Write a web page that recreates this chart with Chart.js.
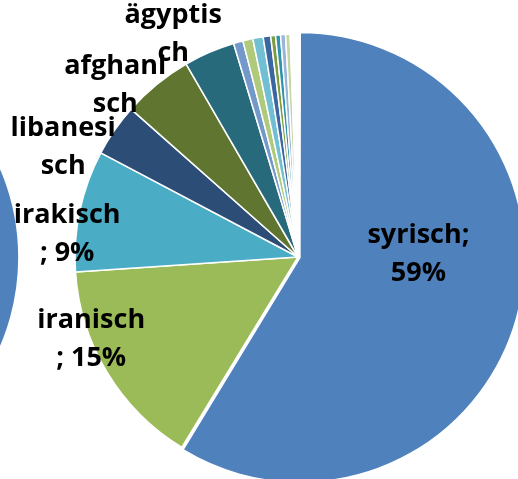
<!DOCTYPE html>
<html>
<head>
<meta charset="utf-8">
<script src="https://cdn.jsdelivr.net/npm/chart.js"></script>
<style>
  html, body {
    margin: 0;
    padding: 0;
    width: 518px;
    height: 479px;
    overflow: hidden;
    background: #fff;
  }
  .pie {
    position: absolute;
    width: 620px;
    height: 620px;
  }
  #mainWrap { left: -12px; top: -53px; }
  #copyWrap { left: -518px; top: -53px; }
</style>
</head>
<body>
<div id="copyWrap" class="pie"><canvas id="copyChart" width="620" height="620"></canvas></div>
<div id="mainWrap" class="pie"><canvas id="mainChart" width="620" height="620"></canvas></div>
<script>
// nationalities, share in percent
const categories = [
  'syrisch', 'iranisch', 'irakisch', 'libanesisch', 'afghanisch', 'ägyptisch',
  'Sonstige 1', 'Sonstige 2', 'Sonstige 3', 'Sonstige 4', 'Sonstige 5',
  'Sonstige 6', 'Sonstige 7', 'Sonstige 8', 'Sonstige 9', 'Sonstige 10',
  'Sonstige 11', 'Sonstige 12', 'Sonstige 13', 'Sonstige 14', 'Sonstige 15'
];
const shares = [
  58.7, 15.2, 8.8, 3.8, 5.1, 3.7,
  0.69, 0.72, 0.75, 0.54, 0.35,
  0.36, 0.36, 0.33, 0.12, 0.10,
  0.08, 0.08, 0.07, 0.06, 0.05
];
const sliceColors = [
  '#4F81BD', '#9BBB59', '#4BACC6', '#2C4D75', '#5F7530', '#276A7C',
  '#7399CB', '#B0CA7C', '#72BFD3', '#3B67A0', '#7D9C3F',
  '#2E93AB', '#9AB5DB', '#C4D7A0', '#A3D3E0', '#1E3A5F',
  '#4A5E24', '#1C5766', '#BFD0E8', '#3D6FB0', '#6F8F3A'
];

const total = shares.reduce((a, b) => a + b, 0);
const pct = i => Math.round(shares[i] / total * 100);

// text of the data labels, wrapped like in the original
const labelLines = [
  [categories[0] + ';', pct(0) + '%'],
  [categories[1], '; ' + pct(1) + '%'],
  [categories[2], '; ' + pct(2) + '%'],
  ['libanesi', 'sch'],
  ['afghani', 'sch'],
  ['ägyptis', 'ch']
];
// where each label sits: [distance / radius, angle in degrees (canvas, 0 = right)]
const labelPlace = [
  [0.540, -1.3],
  [0.998, 158.3],
  [1.040, 185.6],
  [1.162, 205.0],
  [1.124, 223.2],
  [1.145, 240.75]
];

const labelPlugin = {
  id: 'sliceLabels',
  afterDatasetsDraw(chart) {
    const ctx = chart.ctx;
    const arc = chart.getDatasetMeta(0).data[0];
    const r = arc.outerRadius;
    ctx.save();
    ctx.font = 'bold 27px "Open Sans", Carlito, Lato, sans-serif';
    ctx.fillStyle = '#000';
    ctx.textAlign = 'center';
    ctx.textBaseline = 'middle';
    const lh = 38.5;
    labelLines.forEach((lines, i) => {
      const [f, deg] = labelPlace[i];
      const a = deg * Math.PI / 180;
      const x = arc.x + Math.cos(a) * r * f;
      const y = arc.y + Math.sin(a) * r * f;
      lines.forEach((t, j) => {
        ctx.fillText(t, x, y + (j - (lines.length - 1) / 2) * lh);
      });
    });
    ctx.restore();
  }
};

function makePie(id, plugins) {
  return new Chart(document.getElementById(id), {
    type: 'pie',
    data: {
      labels: categories,
      datasets: [{
        data: shares,
        backgroundColor: sliceColors,
        borderColor: '#fff',
        borderWidth: 1.5,
        offset: shares.map((v, i) => i === 0 ? 8 : 0),
        radius: 223
      }]
    },
    options: {
      responsive: false,
      animation: false,
      plugins: {
        legend: { display: false },
        tooltip: { enabled: false }
      }
    },
    plugins: plugins
  });
}

makePie('copyChart', []);
makePie('mainChart', [labelPlugin]);
</script>
</body>
</html>
